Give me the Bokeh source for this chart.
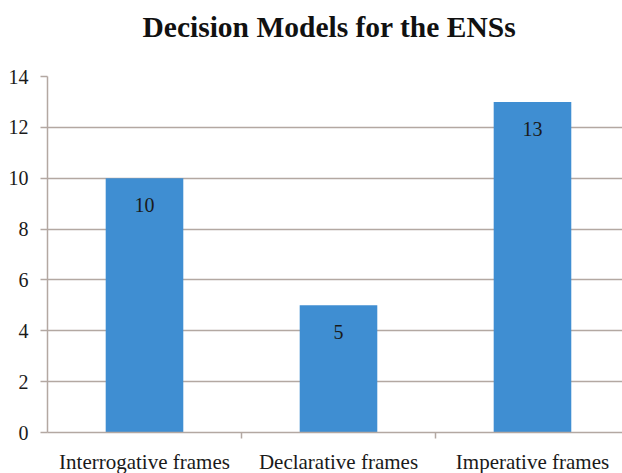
from bokeh.plotting import figure
from bokeh.models import Range1d, FixedTicker, ColumnDataSource, Title
from bokeh.embed import file_html
from bokeh.resources import INLINE
from bokeh.core.properties import value

# ---- data ----
categories = ["Interrogative frames", "Declarative frames", "Imperative frames"]
counts = [10, 5, 13]
y_ticks = [0, 2, 4, 6, 8, 10, 12, 14]
title_text = "Decision Models for the ENSs"

xs = list(range(len(categories)))
src = ColumnDataSource(dict(x=xs, top=counts, label=[str(c) for c in counts]))

SERIF = "Liberation Serif"
GRID = "#b3a8a2"
BAR = "#3f8ed2"

p = figure(frame_width=575, frame_height=356, output_backend="svg",
           toolbar_location=None,
           x_range=Range1d(-0.5, 2.464), y_range=Range1d(0, 14),
           min_border_left=47, min_border_right=0, min_border_top=76,
           min_border_bottom=41)

# spacer panel between frame and title (first added = closest to frame)
p.add_layout(Title(text=" ", text_font_size="10px", standoff=21), "above")
p.add_layout(Title(text=title_text, align="left", offset=95, text_font=SERIF,
                   text_font_size="29.5px", text_font_style="bold",
                   text_color="#111111", standoff=0), "above")

p.vbar(x="x", top="top", width=0.4, source=src, fill_color=BAR, line_color=None)
p.text(x="x", y="top", text="label", source=src, text_align="center",
       text_baseline="middle", y_offset=27, text_font=value(SERIF),
       text_font_size="20px", text_color="#1a1a1a")

p.outline_line_color = None
p.xgrid.grid_line_color = None
p.ygrid.grid_line_color = GRID
p.ygrid.grid_line_width = 1.5
p.ygrid.ticker = FixedTicker(ticks=y_ticks)

# y axis
p.yaxis.ticker = FixedTicker(ticks=y_ticks)
p.yaxis.axis_line_color = GRID
p.yaxis.axis_line_width = 1.5
p.yaxis.major_tick_line_color = GRID
p.yaxis.major_tick_line_width = 1.5
p.yaxis.major_tick_out = 7
p.yaxis.major_tick_in = 0
p.yaxis.minor_tick_line_color = None
p.yaxis.major_label_standoff = 12
p.yaxis.major_label_text_font = SERIF
p.yaxis.major_label_text_font_size = "20px"
p.yaxis.major_label_text_color = "#1a1a1a"

# x axis: labels at categories, tick marks between categories
p.xaxis.ticker = FixedTicker(ticks=xs, minor_ticks=[i + 0.5 for i in xs])
p.xaxis.major_label_overrides = {i: c for i, c in zip(xs, categories)}
p.xaxis.axis_line_color = GRID
p.xaxis.axis_line_width = 1.5
p.xaxis.major_tick_line_color = None
p.xaxis.major_tick_out = 0
p.xaxis.major_tick_in = 0
p.xaxis.minor_tick_line_color = GRID
p.xaxis.minor_tick_line_width = 1.5
p.xaxis.minor_tick_out = 6
p.xaxis.minor_tick_in = 0
p.xaxis.major_label_standoff = 11
p.xaxis.major_label_text_font = SERIF
p.xaxis.major_label_text_font_size = "21px"
p.xaxis.major_label_text_color = "#1a1a1a"

open("out.html", "w").write(file_html(p, INLINE))
